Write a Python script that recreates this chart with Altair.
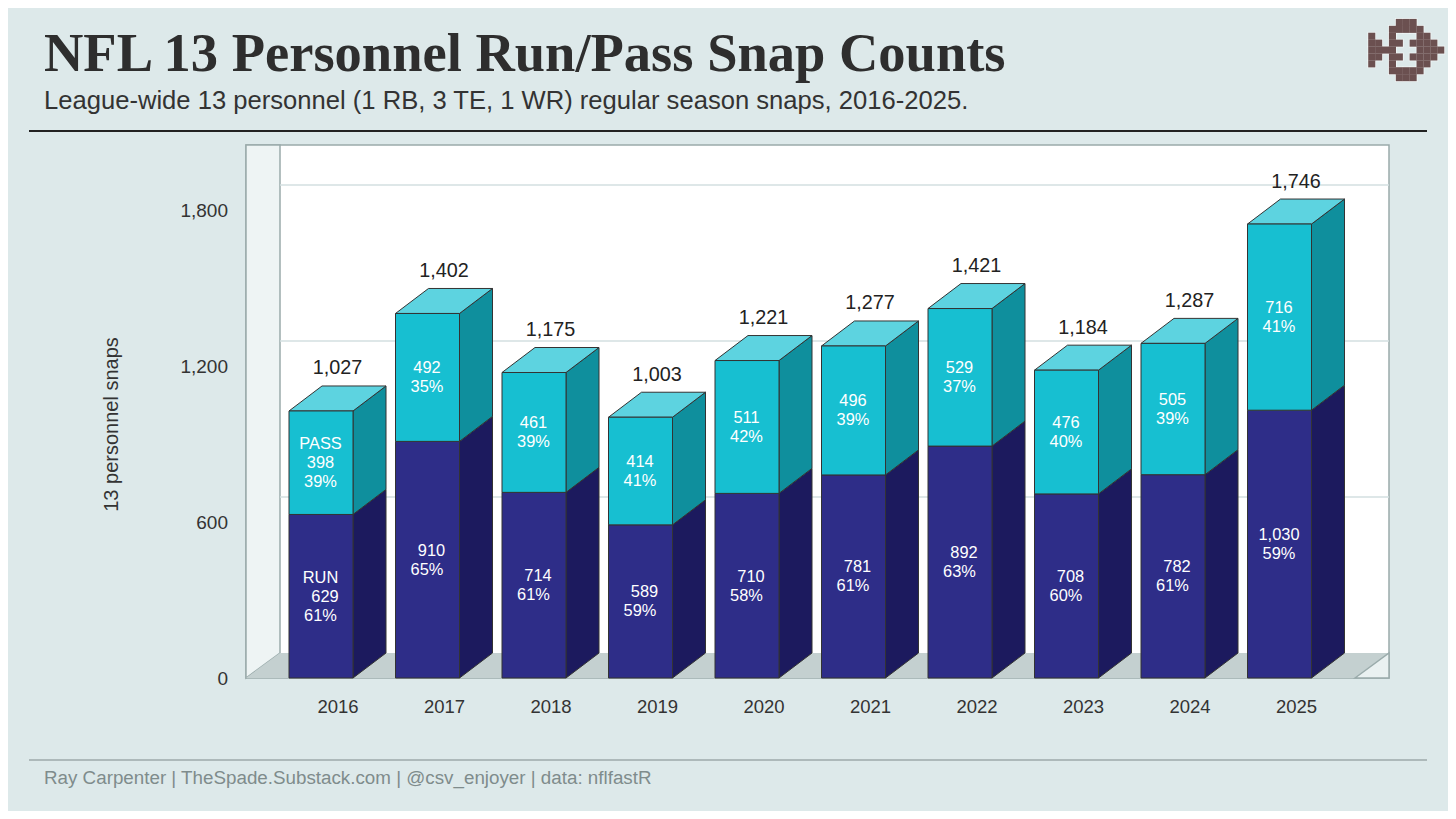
import altair as alt
import pandas as pd

years = [2016, 2017, 2018, 2019, 2020, 2021, 2022, 2023, 2024, 2025]
run_snaps = [629, 910, 714, 589, 710, 781, 892, 708, 782, 1030]
pass_snaps = [398, 492, 461, 414, 511, 496, 529, 476, 505, 716]
total_snaps = [1027, 1402, 1175, 1003, 1221, 1277, 1421, 1184, 1287, 1746]
run_pct = [61, 65, 61, 59, 58, 61, 63, 60, 61, 59]
pass_pct = [39, 35, 39, 41, 42, 39, 37, 40, 39, 41]
y_ticks = [0, 600, 1200, 1800]

TITLE = "NFL 13 Personnel Run/Pass Snap Counts"
SUBTITLE = "League-wide 13 personnel (1 RB, 3 TE, 1 WR) regular season snaps, 2016-2025."
FOOTER = "Ray Carpenter | TheSpade.Substack.com | @csv_enjoyer | data: nflfastR"
logo_rows = [
    [4, 5, 6],
    [3, 4, 5, 6, 7],
    [0, 3, 7, 8],
    [0, 1, 3, 4, 6, 7, 8, 9],
    [0, 1, 2, 3, 7, 8, 9, 10],
    [0, 1, 3, 4, 6, 7, 8, 9],
    [0, 3, 7, 8],
    [3, 4, 5, 6, 7],
    [4, 5, 6],
]

BG = "#dde9ea"
W, H = 1143, 533
UX = 106.5               # px per year
XMIN = 2016 - 91.5 / UX
XMAX = XMIN + W / UX
YMAX = 2050.0
UY = H / YMAX            # px per snap
DX, DY = 33 / UX, 25 / UY       # depth of the 3D bars
RX = 34 / UX                    # depth of the room
LEFT, RIGHT = -48.5 / UX, 15.5 / UX  # front face relative to the year

xs = alt.Scale(domain=[XMIN, XMAX], nice=False, zero=False)
ys = alt.Scale(domain=[0, YMAX], nice=False, zero=False)

x_axis = alt.Axis(values=years, format="d", title=None, domain=False, ticks=False, grid=False,
                  labelFont="Liberation Sans", labelFontSize=18.5, labelColor="#333333", labelPadding=19)
y_axis = alt.Axis(values=y_ticks, format=",d", title="13 personnel snaps", domain=False, ticks=False,
                  grid=False, labelFont="Liberation Sans", labelFontSize=19, labelColor="#333333",
                  labelPadding=18.5, titleFont="Liberation Sans", titleFontSize=20, titleColor="#333333",
                  titleFontWeight="normal", titleX=-125, titleY=279)


def X(f):
    return alt.X(f + ":Q", scale=xs, axis=x_axis, stack=None)


def Y(f):
    return alt.Y(f + ":Q", scale=ys, axis=y_axis, stack=None)


# room frame -------------------------------------------------------------
wall = pd.DataFrame({"x": [XMIN, XMIN + RX], "y": [YMAX, YMAX], "y2": [0, DY]})
wall_l = alt.Chart(wall).mark_area(fill="#eef4f4", stroke="#9aabab", strokeWidth=1.5).encode(
    x=X("x"), y=Y("y"), y2="y2:Q")

floor = pd.DataFrame({"y": [0, DY], "x": [XMIN, XMIN + RX], "x2": [XMAX - RX, XMAX]})
floor_l = alt.Chart(floor).mark_area(orient="horizontal", fill="#c4d0d0").encode(
    y=Y("y"), x=X("x"), x2="x2:Q")

corner = pd.DataFrame({"x": [XMAX - RX, XMAX], "y": [0, DY], "y2": [0, 0]})
corner_l = alt.Chart(corner).mark_area(fill="#eaf1f1", stroke="#9aabab", strokeWidth=1.5).encode(
    x=X("x"), y=Y("y"), y2="y2:Q")

grid = pd.DataFrame({"y": [t + DY for t in y_ticks[1:]], "x": XMIN + RX, "x2": XMAX})
grid_l = alt.Chart(grid).mark_rule(color="#d3dfe0", strokeWidth=1.5).encode(
    y=Y("y"), x=X("x"), x2="x2:Q")

# bars -------------------------------------------------------------------
fronts, sides, labels = [], [], []
NUDGE = 0.5 / UY
for yr, r, p, rp, pp in zip(years, run_snaps, pass_snaps, run_pct, pass_pct):
    fronts.append(dict(x=yr + LEFT, x2=yr + RIGHT, y=0, y2=r, k="run"))
    fronts.append(dict(x=yr + LEFT, x2=yr + RIGHT, y=r, y2=r + p, k="pass"))
    for k, a, b in (("run", 0, r), ("pass", r, r + p)):
        sides.append(dict(id=f"{yr}{k}", k=k, x=yr + RIGHT, y=a, y2=b))
        sides.append(dict(id=f"{yr}{k}", k=k, x=yr + RIGHT + DX, y=a + DY, y2=b + DY))

    cx = yr + (LEFT + RIGHT) / 2 - 0.5 / UX
    mid_p = r + p / 2 - NUDGE
    mid_r = r / 2 - NUDGE
    shift = 4.5 / UX if r < 1000 else 0
    if yr == years[0]:
        labels += [dict(x=cx, y=mid_p + 19 / UY, t="PASS"), dict(x=cx, y=mid_p, t=f"{p:,}"),
                   dict(x=cx, y=mid_p - 19 / UY, t=f"{pp}%"),
                   dict(x=cx, y=mid_r + 19 / UY, t="RUN"), dict(x=cx + shift, y=mid_r, t=f"{r:,}"),
                   dict(x=cx, y=mid_r - 19 / UY, t=f"{rp}%")]
    else:
        labels += [dict(x=cx, y=mid_p + 9.5 / UY, t=f"{p:,}"), dict(x=cx, y=mid_p - 9.5 / UY, t=f"{pp}%"),
                   dict(x=cx + shift, y=mid_r + 9.5 / UY, t=f"{r:,}"), dict(x=cx, y=mid_r - 9.5 / UY, t=f"{rp}%")]

tops = []
for yr, t in zip(years, total_snaps):
    tops.append(dict(id=yr, y=t, x=yr + LEFT, x2=yr + RIGHT))
    tops.append(dict(id=yr, y=t + DY, x=yr + LEFT + DX, x2=yr + RIGHT + DX))

fronts_df = pd.DataFrame(fronts)
sides_df = pd.DataFrame(sides)


def front_layer(k, color):
    return alt.Chart(fronts_df[fronts_df.k == k]).mark_rect(fill=color, stroke="#333333", strokeWidth=1).encode(
        x=X("x"), x2="x2:Q", y=Y("y"), y2="y2:Q")


def side_layer(k, color):
    return alt.Chart(sides_df[sides_df.k == k]).mark_area(fill=color, stroke="#333333", strokeWidth=1).encode(
        x=X("x"), y=Y("y"), y2="y2:Q", detail="id:N")


top_l = alt.Chart(pd.DataFrame(tops)).mark_area(
    orient="horizontal", fill="#5dd3e0", stroke="#333333", strokeWidth=1).encode(
    y=Y("y"), x=X("x"), x2="x2:Q", detail="id:N")

label_l = alt.Chart(pd.DataFrame(labels)).mark_text(
    font="Liberation Sans", fontSize=16.4, color="white", baseline="middle", align="center").encode(
    x=X("x"), y=Y("y"), text="t:N")

totals = pd.DataFrame({"x": years, "y": [t + DY + 17.5 / UY for t in total_snaps],
                       "t": [f"{t:,}" for t in total_snaps]})
total_l = alt.Chart(totals).mark_text(
    font="Liberation Sans", fontSize=19.8, color="#222222", baseline="middle", align="center").encode(
    x=X("x"), y=Y("y"), text="t:N")

# header, footer, logo ---------------------------------------------------
one = pd.DataFrame({"a": [0]})
header_rule = alt.Chart(one).mark_rule(color="#222222", strokeWidth=2).encode(
    x=alt.value(29 - 246), x2=alt.value(1427 - 246), y=alt.value(131 - 145))
footer_rule = alt.Chart(one).mark_rule(color="#7f8a8a", strokeWidth=1.2).encode(
    x=alt.value(29 - 246), x2=alt.value(1427 - 246), y=alt.value(760 - 145))
footer = alt.Chart(one).mark_text(
    font="Liberation Sans", fontSize=18.8, color="#7f8c8c", align="left", baseline="middle", text=FOOTER).encode(
    x=alt.value(44 - 246), y=alt.value(778 - 145))
title = alt.Chart(one).mark_text(
    font="Liberation Serif", fontWeight="bold", fontSize=54.5, color="#2e2e2e", align="left", baseline="alphabetic", text=TITLE).encode(
    x=alt.value(44 - 246), y=alt.value(71 - 145))
subtitle = alt.Chart(one).mark_text(
    font="Liberation Sans", fontSize=25.6, color="#333333", align="left", baseline="alphabetic", text=SUBTITLE).encode(
    x=alt.value(44 - 246), y=alt.value(109 - 145))

CELL = 6.9
logo = pd.DataFrame([
    dict(x=XMIN + (1368.3 + CELL * (c + .5) - 246) / UX, y=(678 - (19 + CELL * (r + .5))) / UY)
    for r, cols in enumerate(logo_rows) for c in cols])
logo_halo = alt.Chart(logo).mark_square(size=76, color="#f4f8f8", opacity=0.8).encode(x=X("x"), y=Y("y"))
logo_l = alt.Chart(logo).mark_square(size=50, color="#6b5050", opacity=1).encode(x=X("x"), y=Y("y"))

chart = alt.layer(
    wall_l, floor_l, corner_l, grid_l,
    side_layer("run", "#1c1a5e"), side_layer("pass", "#0f8f9d"), top_l,
    front_layer("run", "#2e2d88"), front_layer("pass", "#17bfd1"),
    label_l, total_l,
    header_rule, footer_rule, footer, title, subtitle, logo_halo, logo_l,
).properties(
    width=W, height=H,
    background=BG,
    autosize=alt.AutoSizeParams(type="none"),
    padding={"left": 238, "top": 137, "right": 59, "bottom": 133},
).configure_view(fill="white", stroke="#9aabab", strokeWidth=1.5)

chart.save("out.html", embed_options={"renderer": "svg", "actions": False})
